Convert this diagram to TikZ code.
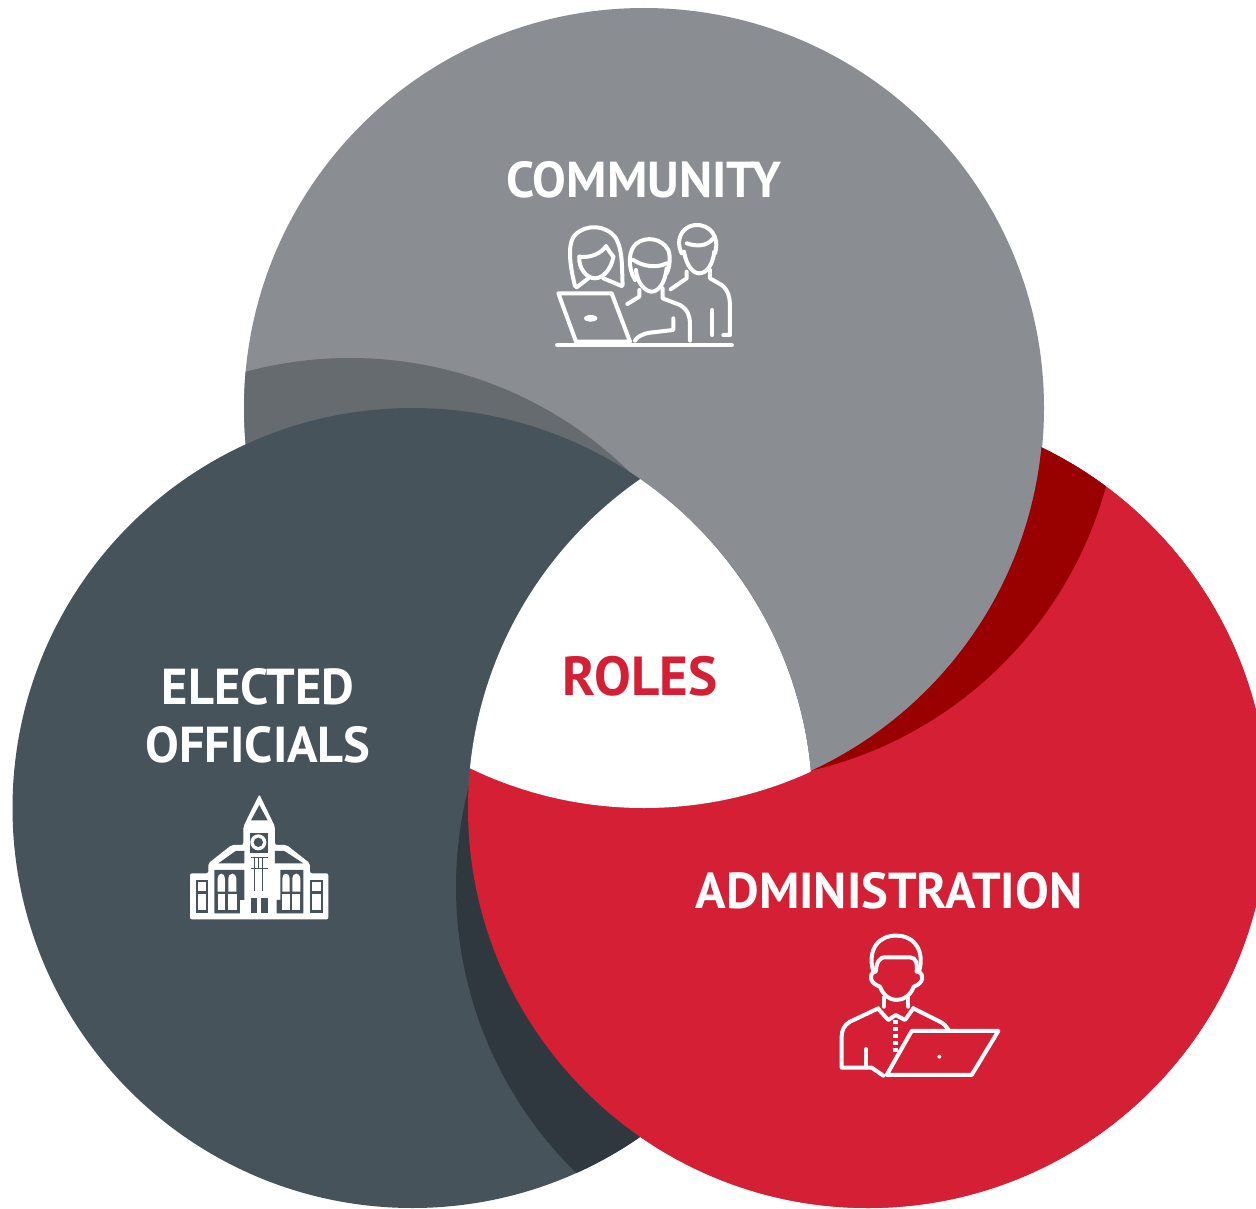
\documentclass[tikz,border=0pt]{standalone}
\usepackage{fontspec}
\setmainfont{PT Sans}
\definecolor{cgray}{HTML}{8A8D91}
\definecolor{cgrayd}{HTML}{666B70}
\definecolor{cslate}{HTML}{47535B}
\definecolor{cslated}{HTML}{30383F}
\definecolor{cred}{HTML}{D51F35}
\definecolor{credd}{HTML}{990000}
\tikzset{
  lab/.style={text=white,font=\fontsize{50.5}{56}\bfseries\selectfont,inner sep=0pt},
  ico/.style={draw=white,line width=4pt,line cap=round,line join=round},
  icon/.style={x=0.3333pt,y=-0.3333pt},
}
\def\cGray{(644pt,-408pt) circle (400pt)}
\def\cLeft{(412.5pt,-808pt) circle (400pt)}
\def\cRed{(868pt,-808pt) circle (400pt)}
\def\paintRed{\fill[cred] \cRed;
  \begin{scope}\clip \cRed; \fill[credd] (720pt,-381pt) circle (400pt); \end{scope}}
\begin{document}
\begin{tikzpicture}
\useasboundingbox (0pt,0pt) rectangle (1256pt,-1209pt);
\clip (0pt,0pt) rectangle (1256pt,-1209pt);
\fill[white] (0pt,0pt) rectangle (1256pt,-1209pt);
% administration
\paintRed
% community
\fill[cgray] \cGray;
\begin{scope}\clip \cGray; \fill[cgrayd] (350pt,-758pt) circle (400pt); \end{scope}
% elected officials
\fill[cslate] \cLeft;
\begin{scope}\clip \cLeft; \fill[cslated] (856pt,-887pt) circle (400pt); \end{scope}
% administration over elected officials, outside community
\begin{scope}[even odd rule]
\clip (-10pt,10pt) rectangle (1300pt,-1300pt) (644pt,-408pt) circle (399.4pt);
\paintRed
\end{scope}
% centre
\begin{scope}\clip \cGray; \clip \cRed; \fill[white] \cLeft; \end{scope}
% labels
\node[lab] (community) at (644pt,-180pt) {COMMUNITY};
\node[lab] (elected) at (258pt,-687pt) {ELECTED};
\node[lab] (officials) at (258pt,-745pt) {OFFICIALS};
\node[lab] (admin) at (889pt,-891pt) {ADMINISTRATION};
\node[lab,text=cred,font=\fontsize{55}{60}\bfseries\selectfont] (roles) at (640pt,-676pt) {ROLES};
% people icon
\begin{scope}[shift={(540pt,-210pt)},icon]
\draw[ico,line width=4.5pt] (52,405) -- (575,405);
\draw[ico] (55,250) -- (215,250) -- (270,395) -- (108,395) -- cycle;
\fill[white] (152,325) ellipse (20 and 10);
% woman
\draw[ico] (105,228) .. controls (85,150) and (85,95) .. (105,75) .. controls (140,40) and (200,45) .. (228,85) .. controls (250,125) and (245,180) .. (248,225);
\draw[ico] (118,140) .. controls (150,145) and (185,130) .. (198,108) .. controls (205,120) and (212,130) .. (220,140);
\draw[ico] (118,140) .. controls (115,175) and (140,205) .. (165,205) .. controls (190,205) and (215,175) .. (220,140);
\draw[ico] (110,232) -- (145,205);
\draw[ico] (190,205) -- (245,228);
% middle man
\draw[ico] (285,210) .. controls (262,170) and (265,120) .. (290,100) .. controls (320,78) and (365,85) .. (385,120) .. controls (392,140) and (390,170) .. (380,190);
\draw[ico] (280,150) .. controls (310,170) and (350,175) .. (380,160);
\draw[ico] (288,180) .. controls (292,225) and (320,245) .. (335,245) .. controls (355,245) and (375,220) .. (380,175);
\draw[ico] (298,240) -- (298,260) -- (262,282);
\draw[ico] (368,235) -- (368,265) -- (420,285) .. controls (445,300) and (450,320) .. (450,345) -- (450,392);
\draw[ico] (400,325) -- (400,360) -- (330,368) .. controls (305,372) and (290,382) .. (285,392);
% right man
\draw[ico] (425,130) .. controls (405,90) and (425,50) .. (465,45) .. controls (510,42) and (540,80) .. (525,130);
\draw[ico] (440,100) .. controls (470,110) and (500,110) .. (520,85);
\draw[ico] (432,125) .. controls (440,170) and (460,190) .. (478,190) .. controls (500,190) and (518,165) .. (523,125);
\draw[ico] (440,185) -- (440,205) -- (392,238);
\draw[ico] (510,180) -- (510,205) -- (545,225) .. controls (565,240) and (570,265) .. (570,285) -- (570,375) -- (550,375);
\draw[ico] (517,300) -- (517,375);
\end{scope}
% building icon
\begin{scope}[shift={(175pt,-785pt)},icon]
\fill[white,rounded corners=2pt] (45,265) -- (100,265) -- (100,235) -- (170,180) -- (205,180) -- (205,125) -- (253,28) -- (300,125) -- (300,180) -- (335,180) -- (405,235) -- (405,265) -- (460,265) -- (460,403) -- (45,403) -- cycle;
\fill[cslate] (253,60) -- (278,106) -- (228,106) -- cycle;
\fill[cslate] (130,235) -- (182,198) -- (208,198) -- (208,235) -- cycle;
\fill[cslate] (300,198) -- (328,198) -- (385,235) -- (300,235) -- cycle;
\fill[cslate] (226,145) rectangle (280,205);
\fill[white] (250,172) circle (24);
\fill[cslate] (250,172) circle (14);
\fill[cslate] (62,285) rectangle (100,385);
\fill[white] (70,292) rectangle (92,318);
\fill[white] (70,326) rectangle (92,376);
\fill[cslate] (405,285) rectangle (445,385);
\fill[white] (412,292) rectangle (437,318);
\fill[white] (412,326) rectangle (437,376);
\fill[cslate] (118,255) -- (208,255) -- (208,345) -- (195,345) -- (195,385) -- (118,385) -- cycle;
\fill[white] (128,320) -- (128,280) arc[start angle=180,end angle=360,x radius=11,y radius=14] -- (150,320) -- cycle;
\fill[white] (160,320) -- (160,280) arc[start angle=180,end angle=360,x radius=12,y radius=14] -- (184,320) -- cycle;
\fill[white] (128,328) rectangle (150,376);
\fill[white] (160,328) rectangle (186,376);
\fill[cslate] (316,255) -- (385,255) -- (385,385) -- (305,385) -- (305,345) -- (316,345) -- cycle;
\fill[white] (322,320) -- (322,280) arc[start angle=180,end angle=360,x radius=11,y radius=14] -- (344,320) -- cycle;
\fill[white] (352,320) -- (352,280) arc[start angle=180,end angle=360,x radius=12,y radius=14] -- (376,320) -- cycle;
\fill[white] (322,328) rectangle (344,376);
\fill[white] (352,328) rectangle (376,376);
\fill[cslate] (228,340) rectangle (278,385);
\fill[white] (247,340) rectangle (258,385);
\draw[cslate,line width=1pt] (228,218) -- (278,218) (228,250) -- (278,250);
\draw[cslate,line width=1pt] (240,218) -- (240,318) (250,218) -- (250,250) (264,218) -- (264,318);
\end{scope}
% administrator icon
\begin{scope}[shift={(825pt,-925pt)},icon]
\draw[ico] (145,140) .. controls (125,70) and (165,30) .. (215,32) .. controls (270,32) and (300,80) .. (282,140);
\draw[ico] (152,140) .. controls (155,115) and (160,95) .. (185,97) -- (255,97) .. controls (275,97) and (278,120) .. (275,140);
\draw[ico] (148,140) .. controls (130,150) and (135,175) .. (165,185) .. controls (175,212) and (195,225) .. (215,225) .. controls (235,225) and (258,210) .. (266,185) .. controls (295,175) and (300,150) .. (280,140);
\draw[ico] (176,218) -- (176,245);
\draw[ico] (250,218) -- (250,245);
\draw[ico] (160,252) -- (190,285) -- (212,270) -- (240,285) -- (265,250);
\draw[ico] (160,250) -- (75,290) .. controls (58,300) and (50,315) .. (50,335) -- (50,428) -- (140,428) -- (175,452);
\draw[ico] (265,250) -- (345,290) .. controls (358,297) and (365,305) .. (370,314);
\draw[ico] (123,372) -- (123,428);
\draw[white,line width=5.5pt,dash pattern=on 4pt off 3pt] (212,285) -- (212,390);
\draw[ico] (260,318) -- (520,318) -- (440,450) -- (185,450) -- cycle;
\fill[white] (343,395) circle (6);
\end{scope}
\end{tikzpicture}
\end{document}
